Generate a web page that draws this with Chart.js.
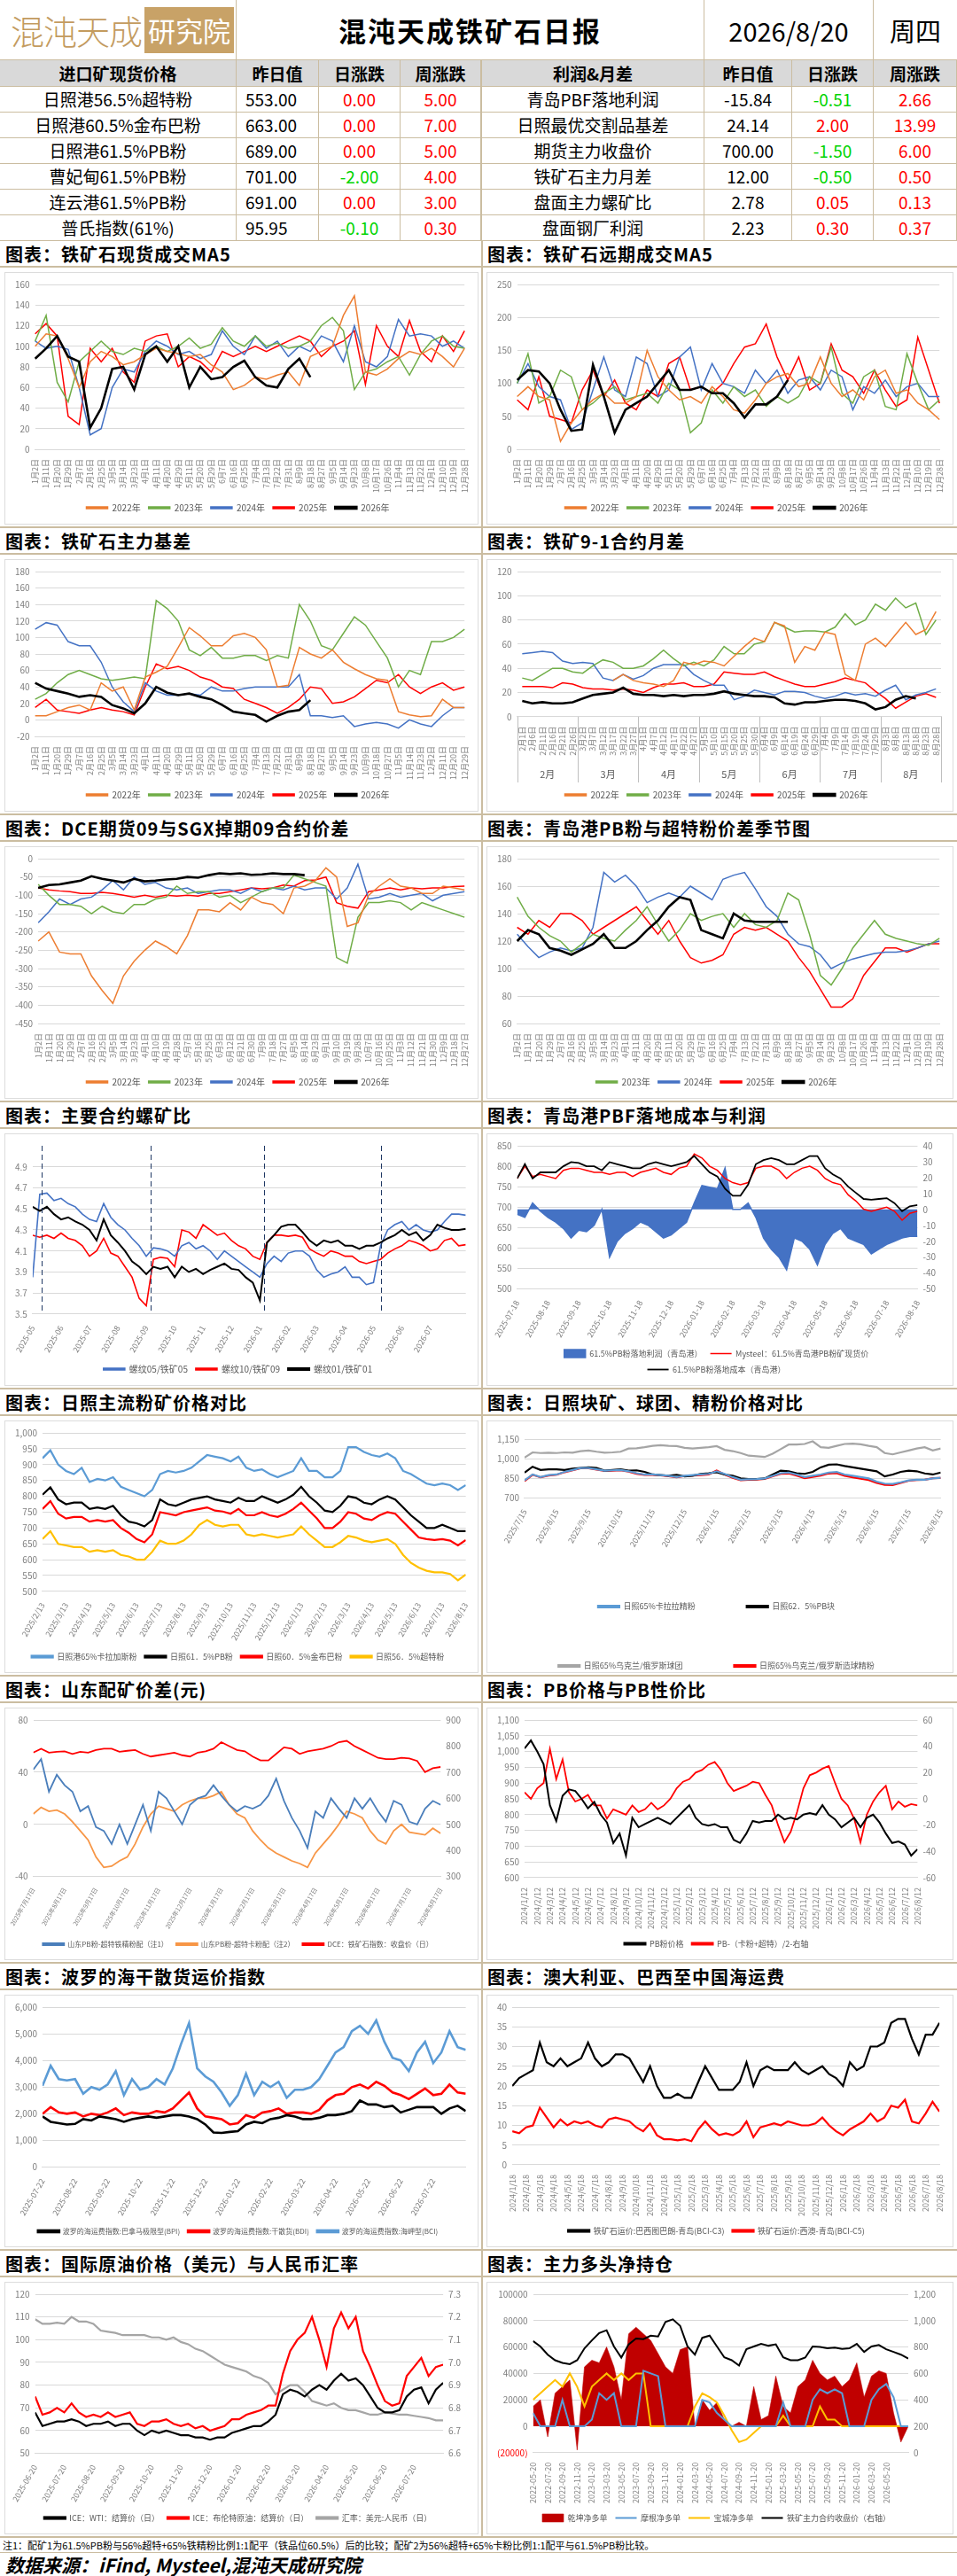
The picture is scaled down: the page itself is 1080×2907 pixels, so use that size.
<!DOCTYPE html>
<html>
<head>
<meta charset="utf-8">
<script src="https://cdn.jsdelivr.net/npm/chart.js@4.4.1/dist/chart.umd.min.js"></script>
<style>
body{margin:0;background:#fff;font-family:"Noto Sans CJK SC","Noto Sans",sans-serif;color:#000;}
#page{position:relative;width:1080px;height:2907px;overflow:hidden;background:#fff;}
.abs{position:absolute;box-sizing:border-box;}
.cell{position:absolute;box-sizing:border-box;border-right:1px solid #cbbda1;border-bottom:1px solid #cbbda1;text-align:center;white-space:nowrap;overflow:hidden;font-size:19px;}
.stitle{position:absolute;box-sizing:border-box;height:30px;line-height:29px;padding-left:6px;font-size:20px;font-weight:bold;letter-spacing:1px;border-bottom:2px solid #cbbda1;white-space:nowrap;}
.frame{position:absolute;box-sizing:border-box;border:1px solid #dcdcdc;background:#fff;padding:1px;}
</style>
</head>
<body>
<div id="page"></div>
<script>
// ---------------- header table ----------------
const leftNames = ['日照港56.5%超特粉', '日照港60.5%金布巴粉', '日照港61.5%PB粉', '曹妃甸61.5%PB粉', '连云港61.5%PB粉', '普氏指数(61%)'];
const leftPrev = ['553.00', '663.00', '689.00', '701.00', '691.00', '95.95'];
const leftDay = ['0.00', '0.00', '0.00', '-2.00', '0.00', '-0.10'];
const leftWeek = ['5.00', '7.00', '5.00', '4.00', '3.00', '0.30'];
const rightNames = ['青岛PBF落地利润', '日照最优交割品基差', '期货主力收盘价', '铁矿石主力月差', '盘面主力螺矿比', '盘面钢厂利润'];
const rightPrev = ['-15.84', '24.14', '700.00', '12.00', '2.78', '2.23'];
const rightDay = ['-0.51', '2.00', '-1.50', '-0.50', '0.05', '0.30'];
const rightWeek = ['2.66', '13.99', '6.00', '0.50', '0.13', '0.37'];
const headNames = ['进口矿现货价格', '昨日值', '日涨跌', '周涨跌', '利润&月差', '昨日值', '日涨跌', '周涨跌'];

// ---------------- seasonal charts ----------------
const seasonDays = ['1月2日','1月11日','1月20日','1月29日','2月7日','2月16日','2月25日','3月5日','3月14日','3月23日','4月1日','4月11日','4月20日','4月29日','5月11日','5月20日','5月29日','6月7日','6月16日','6月25日','7月4日','7月13日','7月22日','7月31日','8月9日','8月18日','8月27日','9月5日','9月14日','9月23日','10月8日','10月17日','10月26日','11月4日','11月13日','11月22日','12月1日','12月10日','12月19日','12月28日'];
const basisDays = ['1月2日','1月11日','1月20日','1月29日','2月7日','2月16日','2月25日','3月5日','3月14日','3月23日','4月1日','4月11日','4月20日','4月29日','5月11日','5月20日','5月29日','6月7日','6月16日','6月25日','7月4日','7月13日','7月22日','7月31日','8月9日','8月18日','8月27日','9月5日','9月14日','9月23日','10月9日','10月18日','10月27日','11月5日','11月14日','11月23日','12月2日','12月11日','12月20日','12月29日'];
const dceDays = ['1月2日','1月11日','1月20日','1月29日','2月7日','2月16日','2月25日','3月5日','3月14日','3月23日','4月1日','4月10日','4月19日','4月28日','5月7日','5月16日','5月25日','6月3日','6月12日','6月21日','6月30日','7月9日','7月18日','7月27日','8月5日','8月14日','8月23日','9月1日','9月10日','9月19日','9月28日','10月7日','10月16日','10月25日','11月3日','11月12日','11月21日','11月30日','12月9日','12月18日','12月27日'];
const spreadDays = ['2月1日','2月6日','2月11日','2月16日','2月21日','2月26日','3月2日','3月7日','3月12日','3月17日','3月22日','3月27日','4月1日','4月7日','4月12日','4月17日','4月22日','4月27日','5月5日','5月10日','5月15日','5月20日','5月25日','5月30日','6月4日','6月9日','6月14日','6月19日','6月24日','6月29日','7月4日','7月9日','7月14日','7月19日','7月24日','7月29日','8月3日','8月8日','8月13日','8月18日','8月23日','8月28日'];
const spreadMonths = ['2月', '3月', '4月', '5月', '6月', '7月', '8月'];

const spot2022 = [100,112,110,88,60,85,95,90,82,85,92,98,95,93,90,92,82,75,58,62,70,68,72,75,62,90,95,100,130,149,75,72,78,88,95,92,98,90,80,98];
const spot2023 = [105,130,65,46,85,95,105,95,92,98,95,100,95,100,108,98,102,118,105,100,110,100,103,98,100,105,120,128,115,58,75,78,85,90,72,92,105,110,100,98];
const spot2024 = [105,98,100,97,60,14,20,60,78,75,95,105,100,92,95,88,92,115,100,92,110,98,105,90,100,95,110,105,85,120,85,80,90,126,110,112,110,100,105,98];
const spot2025 = [112,122,110,32,24,98,85,98,75,65,105,110,112,80,90,85,75,95,90,95,100,95,100,105,110,105,90,100,105,115,63,120,100,90,125,95,85,110,95,115];
const spot2026 = [88,98,110,90,85,21,40,78,80,58,92,100,85,100,60,80,68,70,80,86,70,62,60,78,88,70];

const fwd2022 = [80,95,80,75,12,40,60,75,85,70,70,80,150,110,90,75,80,70,95,80,60,55,75,100,110,115,95,100,140,100,80,90,75,110,120,85,90,70,60,45];
const fwd2023 = [100,145,70,80,120,110,60,70,85,95,75,80,85,70,100,90,25,40,90,70,95,80,90,65,80,70,80,110,100,155,85,70,110,120,65,60,145,100,60,75];
const fwd2024 = [100,130,95,80,75,30,40,90,140,90,80,140,130,80,90,140,155,90,130,100,95,85,120,100,120,85,105,110,90,120,110,60,95,85,105,80,95,100,80,80];
const fwd2025 = [75,60,110,50,45,40,90,120,80,105,70,60,90,80,130,140,90,95,85,100,130,155,160,190,140,105,140,90,100,160,120,110,85,120,90,65,75,170,120,70];
const fwd2026 = [105,120,118,100,60,28,30,128,80,25,60,70,80,100,120,90,90,95,85,85,70,48,68,68,80,105];

const basis2022 = [5,5,10,15,18,12,45,35,40,12,52,58,65,88,112,102,90,90,102,105,100,85,40,42,88,80,75,85,70,62,55,50,48,10,6,4,5,25,15,15];
const basis2023 = [25,32,45,55,60,55,50,48,50,52,50,145,135,120,85,78,88,75,75,78,78,72,78,75,140,120,90,85,105,125,115,95,75,40,60,55,95,95,100,110];
const basis2024 = [110,118,115,95,90,90,70,40,22,10,45,35,30,30,32,30,40,35,35,38,40,40,40,40,55,5,5,3,5,-8,-5,-3,-5,-10,0,-5,-8,5,15,15];
const basis2025 = [15,25,12,10,8,12,15,12,10,6,40,68,62,65,60,52,48,40,38,25,20,15,8,15,25,40,38,20,22,28,38,48,45,55,40,32,40,45,36,40];
const basis2026 = [45,38,35,32,28,30,28,18,14,8,20,40,33,30,32,28,25,18,10,8,6,-2,5,10,12,24];

const spread2022 = [null,null,null,null,null,null,null,null,null,30,35,30,28,27,25,30,45,43,46,45,42,50,58,65,62,78,75,45,58,55,70,68,35,30,60,65,58,68,78,68,72,87];
const spread2023 = [32,30,35,40,40,37,36,42,47,45,40,40,42,48,55,48,42,45,42,47,58,52,52,60,62,78,74,70,71,71,70,74,85,76,80,93,88,98,90,94,68,80];
const spread2024 = [52,53,54,53,46,44,45,44,32,30,35,31,34,40,43,43,43,35,30,26,26,14,17,22,20,18,21,21,20,17,15,17,20,18,19,17,22,26,14,18,20,23];
const spread2025 = [25,25,25,24,28,27,24,23,23,22,23,22,20,24,27,27,28,25,25,27,37,36,35,35,37,33,30,27,25,25,27,29,32,30,28,21,15,7,12,17,19,16];
const spread2026 = [13,11,12,11,11,12,15,18,19,20,24,19,18,18,17,18,17,18,18,19,21,19,18,17,17,16,11,10,12,12,13,14,14,13,11,6,8,14,17,15];

const dce2022 = [-225,-200,-255,-260,-260,-320,-360,-395,-320,-280,-250,-225,-240,-260,-210,-140,-140,-145,-120,-140,-105,-120,-125,-150,-80,-75,-60,-25,-50,-185,-175,-100,-75,-55,-75,-80,-95,-95,-75,-80,-85];
const dce2023 = [-70,-100,-125,-125,-130,-150,-130,-145,-150,-125,-125,-110,-105,-75,-95,-90,-90,-105,-100,-120,-105,-90,-80,-80,-45,-55,-65,-75,-270,-285,-160,-120,-120,-115,-120,-140,-120,-130,-140,-150,-160];
const dce2024 = [-175,-145,-110,-125,-110,-105,-85,-60,-85,-50,-70,-65,-80,-85,-80,-95,-90,-85,-85,-95,-80,-90,-80,-85,-75,-85,-80,-80,-110,-80,-15,-110,-105,-95,-105,-100,-95,-115,-100,-95,-90];
const dce2025 = [-80,-85,-88,-90,-95,-95,-92,-95,-100,-105,-100,-105,-100,-102,-100,-102,-95,-95,-90,-85,-80,-82,-80,-72,-75,-60,-58,-50,-120,-130,-135,-90,-85,-80,-85,-80,-82,-80,-80,-76,-75];
const dce2026 = [-80,-72,-70,-65,-60,-48,-55,-60,-65,-55,-62,-60,-57,-55,-50,-52,-45,-40,-42,-40,-44,-43,-40,-42,-42,-45];

const pbSp2023 = [152,138,130,124,120,112,118,125,122,120,128,135,145,132,120,128,140,135,138,140,130,140,132,130,135,155,150,125,95,88,100,115,125,135,125,122,120,118,117,122];
const pbSp2024 = [125,116,108,112,115,113,115,130,170,163,168,160,148,152,155,152,160,155,150,165,168,170,158,145,138,125,118,116,110,100,104,107,109,111,112,112,113,115,118,120];
const pbSp2025 = [130,125,135,130,140,140,135,125,130,135,140,145,135,125,135,120,108,104,106,110,125,130,128,130,125,120,108,98,85,72,72,78,95,105,115,115,112,115,118,118];
const pbSp2026 = [120,128,125,115,113,110,114,118,125,115,115,120,128,135,145,152,150,128,125,122,140,135,134,134,134,134];

// ---------------- rebar / ore ratio ----------------
const ratioMonths = ['2025-05','2025-06','2025-07','2025-08','2025-09','2025-10','2025-11','2025-12','2026-01','2026-02','2026-03','2026-04','2026-05','2026-06','2026-07','2026-08'];
const ratio05 = [3.85,4.64,4.65,4.58,4.6,4.55,4.52,4.45,4.4,4.38,4.55,4.42,4.35,4.3,4.22,4.15,4.05,4.13,4.12,4.1,4.05,4.15,4.18,4.12,4.15,4.1,4.02,4.1,4.05,4.0,3.95,3.9,3.85,3.98,4.05,4.0,4.08,4.1,4.1,4.05,3.92,3.85,3.88,3.9,3.95,3.85,3.85,3.78,3.8,4.15,4.3,4.35,4.38,4.3,4.35,4.3,4.28,4.3,4.38,4.45,4.45,4.44];
const ratio10 = [4.25,4.23,4.25,4.22,4.27,4.22,4.2,4.15,4.05,4.1,4.22,4.08,4.05,3.95,3.85,3.65,3.58,4.02,4.04,4.03,3.95,4.3,4.28,4.22,4.35,4.3,4.25,4.27,4.2,4.15,4.12,4.05,4.02,4.18,4.25,4.25,4.24,4.25,4.23,4.12,4.08,4.05,4.1,4.08,4.05,4.05,4.0,3.98,4.0,4.02,4.08,4.12,4.15,4.2,4.18,4.15,4.1,4.12,4.2,4.22,4.15,4.16];
const ratio01 = [4.52,4.48,4.52,4.45,4.4,4.42,4.38,4.35,4.3,4.2,4.4,4.25,4.18,4.1,4.0,3.95,3.88,3.95,3.93,3.95,3.85,3.95,3.9,3.93,3.88,3.92,3.95,3.98,3.93,3.92,3.85,3.8,3.63,4.18,4.25,4.33,4.35,4.35,4.28,4.2,4.15,4.2,4.18,4.2,4.15,4.15,4.12,4.15,4.15,4.18,4.22,4.25,4.3,4.25,4.28,4.2,4.25,4.35,4.32,4.3,4.3,4.31];
const ratioRolls = [1.3, 16.6, 32.6, 49.1];

// ---------------- PBF landed cost ----------------
const pbfMonths = ['2025-07-18','2025-08-18','2025-09-18','2025-10-18','2025-11-18','2025-12-18','2026-01-18','2026-02-18','2026-03-18','2026-04-18','2026-05-18','2026-06-18','2026-07-18','2026-08-18'];
const pbfProfit = [-3,-5,4,-1,-5,-8,-12,-18,-13,-14,-10,0,-30,-20,-15,-12,-8,-10,-14,-18,-16,-12,-8,4,15,14,13,26,0,0,4,-5,-18,-25,-30,-38,-18,-20,-25,-35,-22,-15,-12,-18,-20,-22,-28,-25,-22,-20,-18,-17,-17];
const pbfPrice = [770,800,775,780,775,770,790,795,795,790,785,785,780,785,785,775,785,790,795,785,780,795,800,830,820,800,790,770,760,755,760,795,800,800,790,770,785,795,800,790,770,760,755,730,715,695,690,695,700,690,668,685,690];
const pbfCost = [770,805,770,785,785,785,800,810,808,800,800,790,810,805,800,795,795,805,810,805,800,805,810,825,805,785,775,745,728,728,755,805,815,820,815,805,805,815,825,825,795,780,770,750,735,720,718,720,722,710,690,702,705];

// ---------------- Rizhao fines ----------------
const rzMonths = ['2025/2/13','2025/3/13','2025/4/13','2025/5/13','2025/6/13','2025/7/13','2025/8/13','2025/9/13','2025/10/13','2025/11/13','2025/12/13','2026/1/13','2026/2/13','2026/3/13','2026/4/13','2026/5/13','2026/6/13','2026/7/13','2026/8/13'];
const rzKara = [920,945,900,880,870,890,845,855,850,860,830,820,810,800,820,870,880,875,880,890,910,930,925,920,910,925,890,880,885,870,860,870,880,920,880,880,860,860,880,955,955,940,930,925,935,920,880,870,855,840,835,840,835,820,835];
const rzPB = [805,828,790,775,780,780,760,765,760,770,740,720,715,705,725,790,775,770,780,790,795,800,790,785,780,795,785,785,800,790,780,790,805,830,800,780,755,750,770,800,795,780,775,790,800,790,765,740,720,700,700,710,700,690,690];
const rzJMB = [760,785,745,730,735,735,720,725,720,725,700,685,665,655,680,750,745,740,750,755,760,765,755,752,745,760,740,740,750,740,735,745,760,780,755,730,700,700,720,750,745,730,725,740,750,745,720,695,670,665,662,665,660,645,662];
const rzSSF = [665,690,650,645,640,640,625,630,625,630,615,610,600,600,625,660,650,650,660,680,710,725,710,705,710,710,680,675,680,675,670,675,680,705,680,660,640,640,655,675,670,660,655,660,665,650,615,590,575,565,560,560,555,535,553];

// ---------------- Rizhao lump / pellet / concentrate ----------------
const lumpMonths = ['2025/7/15','2025/8/15','2025/9/15','2025/10/15','2025/11/15','2025/12/15','2026/1/15','2026/2/15','2026/3/15','2026/4/15','2026/5/15','2026/6/15','2026/7/15','2026/8/15'];
const lumpCarajas = [835,880,860,875,880,900,915,930,930,920,910,912,915,905,890,880,880,875,870,860,870,875,880,885,905,885,860,840,843,845,850,870,890,895,880,860,870,880,895,900,880,870,860,850,825,810,808,820,835,840,840,850,855];
const lumpPB = [895,940,915,920,920,915,925,930,935,930,910,915,920,910,912,900,880,875,870,878,865,870,885,890,898,880,870,850,845,845,850,880,910,905,890,885,900,935,955,958,945,935,925,915,905,865,880,900,910,905,888,880,895];
const lumpPellet = [1010,1050,1045,1048,1045,1050,1048,1060,1065,1055,1048,1050,1055,1080,1082,1090,1100,1105,1100,1098,1085,1080,1085,1090,1098,1070,1060,1045,1025,1020,1015,1040,1075,1110,1110,1115,1135,1090,1085,1100,1115,1118,1112,1100,1090,1045,1035,1050,1065,1080,1090,1065,1080];
const lumpConc = [830,878,858,872,878,898,912,928,928,917,907,910,913,903,886,877,877,873,866,858,868,872,876,880,910,880,855,836,840,842,846,866,885,888,872,852,862,872,888,890,870,858,848,838,815,800,798,815,832,838,840,852,853];

// ---------------- Shandong blending ----------------
const sdMonths = ['2025年7月17日','2025年8月17日','2025年9月17日','2025年10月17日','2025年11月17日','2025年12月17日','2026年1月17日','2026年2月17日','2026年3月17日','2026年4月17日','2026年5月17日','2026年6月17日','2026年7月17日','2026年8月17日'];
const sdMix1 = [42,50,25,38,30,25,10,14,-2,-5,-15,0,-15,0,15,-5,25,20,10,0,15,20,22,30,22,15,10,14,12,15,22,35,18,5,-5,-18,10,5,20,12,5,20,12,20,10,2,18,15,2,0,12,18,15];
const sdMix2 = [8,13,10,11,8,2,-5,-12,-25,-33,-32,-28,-25,-15,-2,8,14,12,10,15,18,20,20,22,25,15,8,5,-5,-12,-18,-22,-25,-28,-30,-33,-22,-15,-8,0,10,8,5,-5,-12,-15,-5,0,-6,-7,-8,-3,-7];
const sdDCE = [775,790,775,778,780,770,778,775,785,790,790,778,782,785,770,760,765,770,775,765,760,775,780,790,815,800,785,780,760,745,745,770,795,790,770,780,785,790,800,815,820,800,785,770,755,750,750,755,753,743,700,715,720];

// ---------------- PB price vs value ----------------
const pbMonths = ['2024/1/12','2024/2/12','2024/3/12','2024/4/12','2024/5/12','2024/6/12','2024/7/12','2024/8/12','2024/9/12','2024/10/12','2024/11/12','2024/12/12','2025/1/12','2025/2/12','2025/3/12','2025/4/12','2025/5/12','2025/6/12','2025/7/12','2025/8/12','2025/9/12','2025/10/12','2025/11/12','2025/12/12','2026/1/12','2026/2/12','2026/3/12','2026/4/12','2026/5/12','2026/6/12','2026/7/12','2026/8/12'];
const pbPrice = [1010,1035,1000,960,830,780,860,880,875,850,820,840,800,775,710,740,670,790,760,770,780,790,780,770,790,810,830,790,770,765,770,760,760,720,710,740,780,775,780,780,800,785,790,785,800,805,800,830,800,785,760,775,790,760,790,800,775,740,710,715,705,670,690];
const pbValue = [5,0,8,12,38,15,30,5,-2,0,3,-5,-5,-15,-8,-10,-12,-5,-10,-8,-3,-8,-5,0,8,13,15,20,22,26,28,22,12,6,8,10,13,12,3,-5,-20,-33,-25,-10,8,18,20,23,25,12,0,-5,-15,-33,-12,-2,5,10,-8,-2,-6,-4,-5];

// ---------------- Baltic ----------------
const balMonths = ['2025-07-22','2025-08-22','2025-09-22','2025-10-22','2025-11-22','2025-12-22','2026-01-22','2026-02-22','2026-03-22','2026-04-22','2026-05-22','2026-06-22','2026-07-22'];
const balBPI = [1900,1700,1650,1600,1620,1800,1750,1900,1850,1800,1700,1800,1850,1900,1850,1900,1950,1950,1900,1800,1600,1300,1280,1320,1350,1600,1700,1650,1800,1850,1950,1900,1800,1800,1850,1950,1950,2000,2100,2500,2350,2350,2250,2300,2050,2150,2250,2250,2250,2000,2200,2300,2100];
const balBDI = [2000,2250,2050,2000,2050,1900,2000,1950,2050,2200,1950,2050,2000,2000,2100,2050,2200,2500,2800,2200,1900,1850,1800,1600,1650,1950,1850,2050,2100,2200,2000,2050,2050,2000,2150,2500,2700,2750,3000,3100,2950,3200,3050,2800,2700,2550,2750,2950,2700,2750,3100,2800,2750];
const balBCI = [3050,3800,3300,3250,3300,2750,3000,2900,3100,3600,2700,3300,2900,3000,3300,3100,3700,4600,5400,3700,3400,3200,2800,2300,2700,3500,2700,3200,3000,3200,2600,2900,2900,3000,3300,3800,4300,4500,5100,5300,5000,5500,4700,4100,4000,3600,4300,4700,3900,4300,5100,4500,4400];

// ---------------- ocean freight ----------------
const frtMonths = ['2024/1/18','2024/2/18','2024/3/18','2024/4/18','2024/5/18','2024/6/18','2024/7/18','2024/8/18','2024/9/18','2024/10/18','2024/11/18','2024/12/18','2025/1/18','2025/2/18','2025/3/18','2025/4/18','2025/5/18','2025/6/18','2025/7/18','2025/8/18','2025/9/18','2025/10/18','2025/11/18','2025/12/18','2026/1/18','2026/2/18','2026/3/18','2026/4/18','2026/5/18','2026/6/18','2026/7/18','2026/8/18'];
const frtC3 = [20,22,23,24,31,26,25,27,25,26,27,31,27,25,26,28,28,27,24,21,25,20,17,17,18,17,17,21,25,22,19,19,19,21,26,20,24,25,24,24,24,26,24,23,24,25,23,22,20,26,24,25,30,30,31,36,37,37,32,28,33,33,36];
const frtC5 = [8.5,8,9.5,10,14.5,12,9.5,11.5,10,11,10.5,11,10,9.5,11.5,12,11.5,11,9.5,8.5,10.5,7.5,6.5,6.5,6.2,6.5,6,9,11,9,7.5,8,7.5,8.5,11,7,9.5,10,10.5,10,11,10.5,10,10,10.5,12,10,8.5,7.5,9,10,11,13,11,12,15,14.5,16.5,11,10.5,13,16,13.5];

// ---------------- crude & FX ----------------
const oilMonths = ['2025-06-20','2025-07-20','2025-08-20','2025-09-20','2025-10-20','2025-11-20','2025-12-20','2026-01-20','2026-02-20','2026-03-20','2026-04-20','2026-05-20','2026-06-20','2026-07-20'];
const oilWTI = [68,62,63,64,64,65,64,62,63,63,64,62,63,63,60,58,60,59,60,59,58,58,57,57,56,57,57,59,60,61,62,62,64,67,76,78,77,75,78,80,78,82,85,82,83,80,75,70,68,68,69,75,78,79,72,78,81];
const oilBrent = [75,67,68,70,68,72,68,66,67,66,68,66,67,68,63,62,64,64,65,63,62,63,61,62,60,61,62,65,65,67,68,69,71,71,85,95,100,103,110,100,88,105,112,105,110,95,88,80,73,71,72,84,88,92,84,88,89];
const usdCny = [7.19,7.17,7.17,7.175,7.17,7.2,7.18,7.18,7.17,7.14,7.135,7.13,7.12,7.12,7.12,7.12,7.11,7.11,7.1,7.11,7.09,7.08,7.06,7.05,7.03,7.01,6.99,6.98,6.97,6.96,6.94,6.93,6.91,6.86,6.88,6.9,6.9,6.87,6.83,6.82,6.81,6.82,6.8,6.79,6.79,6.78,6.77,6.77,6.78,6.775,6.77,6.77,6.765,6.76,6.755,6.745,6.745];

// ---------------- net long positions ----------------
const posMonths = ['2022-05-20','2022-07-20','2022-09-20','2022-11-20','2023-01-20','2023-03-20','2023-05-20','2023-07-20','2023-09-20','2023-11-20','2024-01-20','2024-03-20','2024-05-20','2024-07-20','2024-09-20','2024-11-20','2025-01-20','2025-03-20','2025-05-20','2025-07-20','2025-09-20','2025-11-20','2026-01-20','2026-03-20','2026-05-20','2026-07-20'];
const posQiankun = [15000,20000,-8000,25000,30000,35000,-18000,45000,50000,48000,60000,45000,20000,70000,75000,70000,65000,55000,45000,40000,58000,60000,0,20000,12000,18000,5000,0,3000,0,30000,5000,8000,38000,15000,10000,30000,35000,50000,40000,35000,38000,30000,35000,48000,22000,38000,42000,40000,10000,-12000,0];
const posMorgan = [10000,0,0,0,20000,0,0,0,5000,25000,20000,25000,0,0,0,42000,40000,38000,0,0,0,0,0,20000,18000,10000,5000,0,0,0,0,0,0,0,18000,0,0,0,20000,28000,25000,28000,25000,0,0,0,20000,28000,32000,22000,0,0];
const posBaocheng = [20000,25000,30000,35000,30000,40000,30000,15000,30000,35000,40000,35000,40000,35000,40000,40000,0,0,0,0,0,0,15000,25000,22000,18000,8000,-3000,-12000,-10000,-5000,0,0,0,8000,0,0,0,0,15000,5000,5000,0,0,0,0,0,0,0,0,0,0];
const posClose = [845,804,742,700,680,670,700,790,850,906,927,804,720,820,865,860,886,880,990,1010,960,804,742,870,886,804,722,700,660,783,804,824,810,820,722,700,700,720,804,800,790,795,785,790,824,763,804,815,783,763,742,712];

const sectionTitles = [
  ['铁矿石现货成交MA5', '铁矿石远期成交MA5'],
  ['铁矿石主力基差', '铁矿9-1合约月差'],
  ['DCE期货09与SGX掉期09合约价差', '青岛港PB粉与超特粉价差季节图'],
  ['主要合约螺矿比', '青岛港PBF落地成本与利润'],
  ['日照主流粉矿价格对比', '日照块矿、球团、精粉价格对比'],
  ['山东配矿价差(元)', 'PB价格与PB性价比'],
  ['波罗的海干散货运价指数', '澳大利亚、巴西至中国海运费'],
  ['国际原油价格（美元）与人民币汇率', '主力多头净持仓']
];

// ================= page building =================
const page = document.getElementById('page');
const TAN = '#cbbda1';
function box(css, html, cls) {
  const d = document.createElement('div');
  d.className = cls || 'abs';
  d.style.cssText = css;
  if (html !== undefined) d.innerHTML = html;
  page.appendChild(d);
  return d;
}

// title row
box('left:0;top:0;width:267px;height:68px;border-right:1px solid ' + TAN + ';border-bottom:1px solid ' + TAN + ';display:flex;align-items:center;padding-left:12px;',
  '<span style="font-size:38px;font-weight:300;color:#c39b5f;letter-spacing:-1px;">混沌天成</span>' +
  '<span style="margin-left:3px;background:#c8a267;color:#fff;font-size:31px;padding:3px 4px;line-height:46px;">研究院</span>');
box('left:267px;top:0;width:528px;height:68px;border-right:1px solid ' + TAN + ';border-bottom:1px solid ' + TAN + ';text-align:center;line-height:68px;font-size:31px;font-weight:bold;letter-spacing:2px;', '混沌天成铁矿石日报');
box('left:795px;top:0;width:191px;height:68px;border-right:1px solid ' + TAN + ';border-bottom:1px solid ' + TAN + ';text-align:center;line-height:68px;font-size:29px;', '2026/8/20');
box('left:986px;top:0;width:94px;height:68px;border-bottom:1px solid ' + TAN + ';text-align:center;line-height:68px;font-size:29px;', '周四');

const colX = [0, 267, 360, 452, 544, 795, 894, 986, 1080];
const rowY = [68, 98, 127, 156, 185, 214, 243, 272];
function valColor(s) { return s.charAt(0) === '-' ? '#00d400' : '#ff0000'; }
for (let r = 0; r < 7; r++) {
  for (let c = 0; c < 8; c++) {
    let text, color = '#000', extra = '';
    if (r === 0) {
      text = headNames[c];
      extra = 'background:#d9d9d9;font-weight:bold;';
    } else {
      const i = r - 1;
      text = [leftNames[i], leftPrev[i], leftDay[i], leftWeek[i], rightNames[i], rightPrev[i], rightDay[i], rightWeek[i]][c];
      if (c === 2 || c === 3 || c === 6 || c === 7) color = valColor(text);
      if (c === 1) extra = 'text-align:left;padding-left:10px;';
    }
    const h = rowY[r + 1] - rowY[r];
    const bw = c === 3 ? 'border-right:2px solid ' + TAN + ';' : '';
    box('left:' + colX[c] + 'px;top:' + rowY[r] + 'px;width:' + (colX[c + 1] - colX[c]) + 'px;height:' + h + 'px;line-height:' + (h - 1) + 'px;color:' + color + ';' + extra + bw, text, 'cell');
  }
}

// sections
sectionTitles.forEach((pair, k) => {
  const top = 272 + 324 * k;
  [0, 1].forEach(side => {
    const left = side ? 544 : 0;
    const width = side ? 536 : 544;
    box('left:' + left + 'px;top:' + top + 'px;width:' + width + 'px;', '图表：' + pair[side], 'stitle');
    const f = box('left:' + (left + 5) + 'px;top:' + (top + 35) + 'px;width:' + (width - 9) + 'px;height:285px;', undefined, 'frame');
    const c = document.createElement('canvas');
    c.id = 'c' + (k * 2 + side);
    c.width = width - 13;
    c.height = 281;
    f.appendChild(c);
  });
  box('left:0;top:' + (top + 322) + 'px;width:1080px;height:2px;background:' + TAN + ';');
});
box('left:543px;top:272px;width:2px;height:2592px;background:' + TAN + ';');

box('left:0;top:2864px;width:1080px;height:17px;border-bottom:1px solid ' + TAN + ';font-size:11px;line-height:17px;padding-left:3px;white-space:nowrap;',
  '注1：配矿1为61.5%PB粉与56%超特+65%铁精粉比例1:1配平（铁品位60.5%）后的比较；配矿2为56%超特+65%卡粉比例1:1配平与61.5%PB粉比较。');
box('left:0;top:2881px;width:1080px;height:26px;font-size:21px;line-height:26px;font-weight:bold;font-style:italic;padding-left:6px;white-space:nowrap;',
  '数据来源：iFind, Mysteel,混沌天成研究院');

// ================= charts =================
Chart.defaults.font.family = '"Noto Sans CJK SC","Noto Sans",sans-serif';
Chart.defaults.font.size = 10;
Chart.defaults.color = '#595959';
Chart.defaults.animation = false;
Chart.defaults.responsive = false;
Chart.defaults.elements.point.radius = 0;
Chart.defaults.elements.line.tension = 0;
Chart.defaults.plugins.tooltip.enabled = false;

const GRID = '#d9d9d9';
const TICK = '#7f7f7f';
const C22 = '#ed7d31', C23 = '#70ad47', C24 = '#4472c4', C25 = '#ff0000', C26 = '#000000';

function line(label, data, color, w, axis, order) {
  return {label, data, borderColor: color, backgroundColor: color, borderWidth: w || 1.5,
    pointRadius: 0, fill: false, yAxisID: axis || 'y', order: order === undefined ? 1 : order, pointStyle: 'line'};
}
function pts(arr) { return arr.map((v, i) => ({x: i, y: v})); }
function legend(size, point, pad) {
  const labels = {boxWidth: 24, boxHeight: 2, padding: pad || 9, font: {size: size || 10}, color: '#595959',
    sort: (a, b) => a.datasetIndex - b.datasetIndex};
  if (point) { labels.usePointStyle = true; labels.pointStyleWidth = 24; labels.boxHeight = 9; }
  return {position: 'bottom', labels};
}
function yLin(min, max, step, fmt) {
  const s = {min, max, ticks: {stepSize: step, font: {size: 10}, color: TICK, padding: 6},
    grid: {color: GRID, drawTicks: false}, border: {display: false}};
  if (fmt) s.ticks.callback = fmt;
  return s;
}
function yRight(min, max, step, fmt) {
  const s = yLin(min, max, step, fmt);
  s.position = 'right';
  s.grid = {drawOnChartArea: false, drawTicks: false};
  return s;
}
function xCat(rot, size) {
  return {type: 'category', offset: false,
    ticks: {autoSkip: false, minRotation: rot, maxRotation: rot, font: {size: size || 9}, color: TICK, padding: 3},
    grid: {display: false}, border: {color: GRID}};
}
function xIdx(labels, step, max, rot, size) {
  return {type: 'linear', min: 0, max,
    ticks: {stepSize: step, autoSkip: false, minRotation: rot, maxRotation: rot, font: {size: size || 9}, color: TICK, padding: 3,
      callback: v => (v % step === 0 && labels[v / step]) || ''},
    grid: {display: false}, border: {color: GRID}};
}
const comma = v => v.toLocaleString('en-US');
const fix1 = v => v.toFixed(1);
const PAD = {top: 12, right: 12, left: 4, bottom: 2};

function seasonal(id, labels, series, names, colors, y) {
  const last = series.length - 1;
  const ds = series.map((s, i) => line(names[i], s, colors[i], i === last ? 2.6 : 1.5, 'y', i === last ? 0 : 1));
  return new Chart(document.getElementById(id), {
    type: 'line',
    data: {labels, datasets: ds},
    options: {layout: {padding: PAD}, scales: {x: xCat(90), y}, plugins: {legend: legend()}}
  });
}
const YEARS5 = ['2022年', '2023年', '2024年', '2025年', '2026年'];
const COLS5 = [C22, C23, C24, C25, C26];

seasonal('c0', seasonDays, [spot2022, spot2023, spot2024, spot2025, spot2026], YEARS5, COLS5, yLin(0, 160, 20));
seasonal('c1', seasonDays, [fwd2022, fwd2023, fwd2024, fwd2025, fwd2026], YEARS5, COLS5, yLin(0, 250, 50));
seasonal('c2', basisDays, [basis2022, basis2023, basis2024, basis2025, basis2026], YEARS5, COLS5, yLin(-20, 180, 20));

// 9-1 spread with month groups
const monthSep = {
  id: 'monthSep',
  afterDraw(chart, args, opts) {
    const x = chart.scales.x, x2 = chart.scales.x2, ctx = chart.ctx;
    const n = chart.data.labels.length;
    ctx.save();
    ctx.strokeStyle = '#bfbfbf';
    ctx.lineWidth = 1;
    for (let i = 0; i <= n; i += opts.every) {
      const px = Math.round(x.getPixelForValue(i - 0.5)) + 0.5;
      ctx.beginPath(); ctx.moveTo(px, x.top); ctx.lineTo(px, x2.bottom); ctx.stroke();
    }
    ctx.restore();
  }
};
(function () {
  const x = xCat(90); x.offset = true;
  new Chart(document.getElementById('c3'), {
    type: 'line',
    data: {labels: spreadDays, datasets: [spread2022, spread2023, spread2024, spread2025, spread2026].map((s, i) =>
      line(YEARS5[i], s, COLS5[i], i === 4 ? 2.6 : 1.5, 'y', i === 4 ? 0 : 1))},
    options: {layout: {padding: PAD},
      scales: {x, x2: {type: 'category', labels: spreadMonths, offset: true, position: 'bottom',
        grid: {display: false}, border: {display: false}, ticks: {font: {size: 11}, color: '#595959', maxRotation: 0, autoSkip: false}},
        y: yLin(0, 120, 20)},
      plugins: {legend: legend(), monthSep: {every: 6}}},
    plugins: [monthSep]
  });
})();

seasonal('c4', dceDays, [dce2022, dce2023, dce2024, dce2025, dce2026], YEARS5, COLS5, yLin(-450, 0, 50));
seasonal('c5', seasonDays, [pbSp2023, pbSp2024, pbSp2025, pbSp2026], ['2023年', '2024年', '2025年', '2026年'], [C23, C24, C25, C26], yLin(60, 180, 20));

// ratio chart with contract-roll markers
const rollLines = {
  id: 'rollLines',
  afterDatasetsDraw(chart, args, opts) {
    const {ctx, chartArea, scales} = chart;
    ctx.save();
    ctx.strokeStyle = '#1f3864';
    ctx.lineWidth = 1;
    ctx.setLineDash([6, 4]);
    opts.at.forEach(v => {
      const px = Math.round(scales.x.getPixelForValue(v)) + 0.5;
      ctx.beginPath(); ctx.moveTo(px, chartArea.top); ctx.lineTo(px, chartArea.bottom); ctx.stroke();
    });
    ctx.restore();
  }
};
(function () {
  const y = yLin(3.5, 5.1, 0.2, v => Math.abs(v - 5.1) < 1e-6 ? '' : v.toFixed(1));
  y.grid.color = c => (c.tick && Math.abs(c.tick.value - 5.1) < 1e-6) ? 'rgba(0,0,0,0)' : GRID;
  new Chart(document.getElementById('c6'), {
    type: 'line',
    data: {datasets: [
      line('螺纹05/铁矿05', pts(ratio05), '#4472c4', 1.6),
      line('螺纹10/铁矿09', pts(ratio10), '#ff0000', 1.6),
      line('螺纹01/铁矿01', pts(ratio01), '#000000', 2.0, 'y', 0)]},
    options: {layout: {padding: PAD}, scales: {x: xIdx(ratioMonths, 4, 61, 60), y},
      plugins: {legend: legend(), rollLines: {at: ratioRolls}}},
    plugins: [rollLines]
  });
})();

new Chart(document.getElementById('c7'), {
  type: 'line',
  data: {datasets: [
    Object.assign(line('61.5%PB粉落地利润（青岛港）', pts(pbfProfit), '#4472c4', 0, 'y1', 5), {fill: 'origin', pointStyle: 'rect'}),
    line('Mysteel：61.5%青岛港PB粉矿现货价', pts(pbfPrice), '#ff0000', 1.5),
    line('61.5%PB粉落地成本（青岛港）', pts(pbfCost), '#000000', 1.8, 'y', 0)]},
  options: {layout: {padding: PAD},
    scales: {x: xIdx(pbfMonths, 4, 52, 60), y: yLin(500, 850, 50), y1: yRight(-50, 40, 10)},
    plugins: {legend: legend(9, true)}}
});

new Chart(document.getElementById('c8'), {
  type: 'line',
  data: {datasets: [
    line('日照港65%卡拉加斯粉', pts(rzKara), '#5b9bd5', 2.2),
    line('日照61．5%PB粉', pts(rzPB), '#000000', 2.2),
    line('日照60．5%金布巴粉', pts(rzJMB), '#ff0000', 2.2),
    line('日照56．5%超特粉', pts(rzSSF), '#ffc000', 2.2)]},
  options: {layout: {padding: PAD}, scales: {x: xIdx(rzMonths, 3, 54, 60), y: yLin(500, 1000, 50)},
    plugins: {legend: legend(9)}}
});

new Chart(document.getElementById('c9'), {
  type: 'line',
  data: {datasets: [
    line('日照65%卡拉拉精粉', pts(lumpCarajas), '#5b9bd5', 2.2),
    line('日照62．5%PB块', pts(lumpPB), '#000000', 2.2),
    line('日照65%乌克兰/俄罗斯球团', pts(lumpPellet), '#a5a5a5', 2.2),
    line('日照65%乌克兰/俄罗斯造球精粉', pts(lumpConc), '#ff0000', 2.2)]},
  options: {layout: {padding: PAD}, scales: {x: xIdx(lumpMonths, 4, 52, 60), y: yLin(700, 1200, 50)},
    plugins: {legend: legend(9, false, 58)}}
});

new Chart(document.getElementById('c10'), {
  type: 'line',
  data: {datasets: [
    line('山东PB粉-超特铁精粉配（注1）', pts(sdMix1), '#4a7ebb', 1.8),
    line('山东PB粉-超特卡粉配（注2）', pts(sdMix2), '#f79646', 1.8),
    line('DCE：铁矿石指数：收盘价（日）', pts(sdDCE), '#ff0000', 1.8, 'y1')]},
  options: {layout: {padding: PAD},
    scales: {x: xIdx(sdMonths, 4, 52, 60, 7), y: yLin(-40, 80, 40), y1: yRight(300, 900, 100)},
    plugins: {legend: legend(8)}}
});

new Chart(document.getElementById('c11'), {
  type: 'line',
  data: {datasets: [
    line('PB粉价格', pts(pbPrice), '#000000', 2.0, 'y', 0),
    line('PB-（卡粉+超特）/2-右轴', pts(pbValue), '#ff0000', 1.8, 'y1')]},
  options: {layout: {padding: PAD},
    scales: {x: xIdx(pbMonths, 2, 62, 90), y: yLin(600, 1100, 50, comma), y1: yRight(-60, 60, 20)},
    plugins: {legend: legend(9)}}
});

new Chart(document.getElementById('c12'), {
  type: 'line',
  data: {datasets: [
    line('波罗的海运费指数:巴拿马极限型(BPI)', pts(balBPI), '#000000', 2.6, 'y', 0),
    line('波罗的海运费指数:干散货(BDI)', pts(balBDI), '#ff0000', 2.6),
    line('波罗的海运费指数:海岬型(BCI)', pts(balBCI), '#5b9bd5', 2.6)]},
  options: {layout: {padding: PAD},
    scales: {x: xIdx(balMonths, 4, 52, 60), y: yLin(0, 6000, 1000, comma)},
    plugins: {legend: legend(8)}}
});

new Chart(document.getElementById('c13'), {
  type: 'line',
  data: {datasets: [
    line('铁矿石运价:巴西图巴朗-青岛(BCI-C3)', pts(frtC3), '#000000', 2.2, 'y', 0),
    line('铁矿石运价:西澳-青岛(BCI-C5)', pts(frtC5), '#ff0000', 2.2)]},
  options: {layout: {padding: PAD},
    scales: {x: xIdx(frtMonths, 2, 62, 90), y: yLin(0, 40, 5)},
    plugins: {legend: legend(9)}}
});

new Chart(document.getElementById('c14'), {
  type: 'line',
  data: {datasets: [
    line('ICE：WTI：结算价（日）', pts(oilWTI), '#000000', 2.2, 'y', 0),
    line('ICE：布伦特原油：结算价（日）', pts(oilBrent), '#ff0000', 2.2),
    line('汇率：美元:人民币（日）', pts(usdCny), '#a5a5a5', 2.2, 'y1', 2)]},
  options: {layout: {padding: PAD},
    scales: {x: xIdx(oilMonths, 4, 56, 60), y: yLin(50, 120, 10), y1: yRight(6.6, 7.3, 0.1, fix1)},
    plugins: {legend: legend(9)}}
});

(function () {
  const y = yLin(-20000, 100000, 20000, v => v < 0 ? '(' + (-v) + ')' : String(v));
  y.ticks.color = c => (c.tick && c.tick.value < 0) ? '#ff0000' : TICK;
  new Chart(document.getElementById('c15'), {
    type: 'line',
    data: {datasets: [
      Object.assign(line('乾坤净多单', pts(posQiankun), '#c00000', 0.6, 'y', 5), {fill: 'origin', pointStyle: 'rect'}),
      line('摩根净多单', pts(posMorgan), '#5b9bd5', 2.0, 'y', 2),
      line('宝城净多单', pts(posBaocheng), '#ffc000', 2.0, 'y', 2),
      line('铁矿主力合约收盘价（右轴）', pts(posClose), '#000000', 2.0, 'y1', 0)]},
    options: {layout: {padding: PAD},
      scales: {x: xIdx(posMonths, 2, 51, 90), y, y1: yRight(0, 1200, 200, comma)},
      plugins: {legend: legend(9, true)}}
  });
})();
</script>
</body>
</html>
